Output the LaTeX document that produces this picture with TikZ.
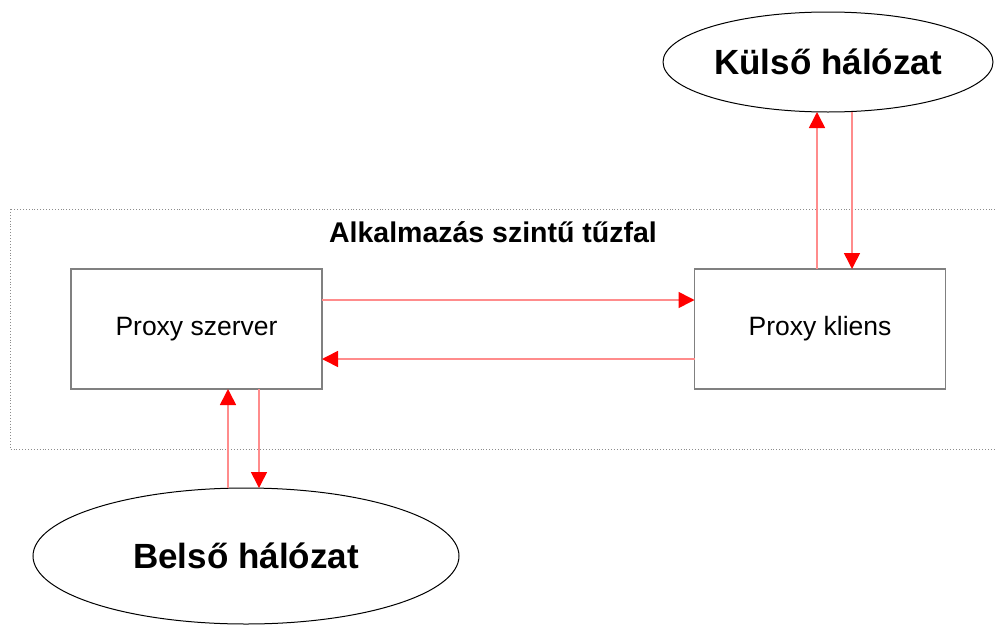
\documentclass[tikz,border=0pt]{standalone}
\usepackage{fontspec}
\setmainfont{Liberation Sans}
\usetikzlibrary{arrows.meta,shapes.geometric}
\begin{document}
\begin{tikzpicture}[x=1pt,y=-1pt,
  procbox/.style={draw=black!50,line width=1.3pt,minimum width=251pt,minimum height=120pt,
    inner sep=0pt,outer sep=0pt,font=\fontsize{26.5}{30}\selectfont},
  netcloud/.style={ellipse,draw=black,line width=1pt,inner sep=0pt,outer sep=0pt,
    font=\fontsize{35}{40}\selectfont\bfseries},
  flow/.style={draw=red!45,line width=1.6pt,
    -{Triangle[length=16pt,width=16pt,color=red,fill=red]}}]
  \useasboundingbox (0,0) rectangle (995,624);
  % firewall boundary
  \draw[black!45,dotted,line width=0.9pt] (10,209) rectangle (1005,449);
  \node[font=\fontsize{28.5}{32}\selectfont\bfseries] (fal) at (493,232) {Alkalmazás szintű tűzfal};
  % proxy components
  \node[procbox] (szerver) at (196.5,329) {Proxy szerver};
  \node[procbox] (kliens) at (820,329) {Proxy kliens};
  % networks
  \node[netcloud,minimum width=330pt,minimum height=100pt] (kulso) at (828,62) {Külső hálózat};
  \node[netcloud,minimum width=426pt,minimum height=136pt] (belso) at (246,556) {Belső hálózat};
  % traffic between proxies
  \draw[flow] ([yshift=29pt]szerver.east) -- ([yshift=29pt]kliens.west);
  \draw[flow] ([yshift=-30pt]kliens.west) -- ([yshift=-30pt]szerver.east);
  % traffic to the outside network
  \draw[flow] ([xshift=-3pt]kliens.north) -- ([xshift=-11pt]kulso.south);
  \draw[flow] ([xshift=24pt]kulso.south) -- ([xshift=32pt]kliens.north);
  % traffic to the inside network
  \draw[flow] ([xshift=-18pt]belso.north) -- ([xshift=31.5pt]szerver.south);
  \draw[flow] ([xshift=62.5pt]szerver.south) -- ([xshift=13pt]belso.north);
\end{tikzpicture}
\end{document}
